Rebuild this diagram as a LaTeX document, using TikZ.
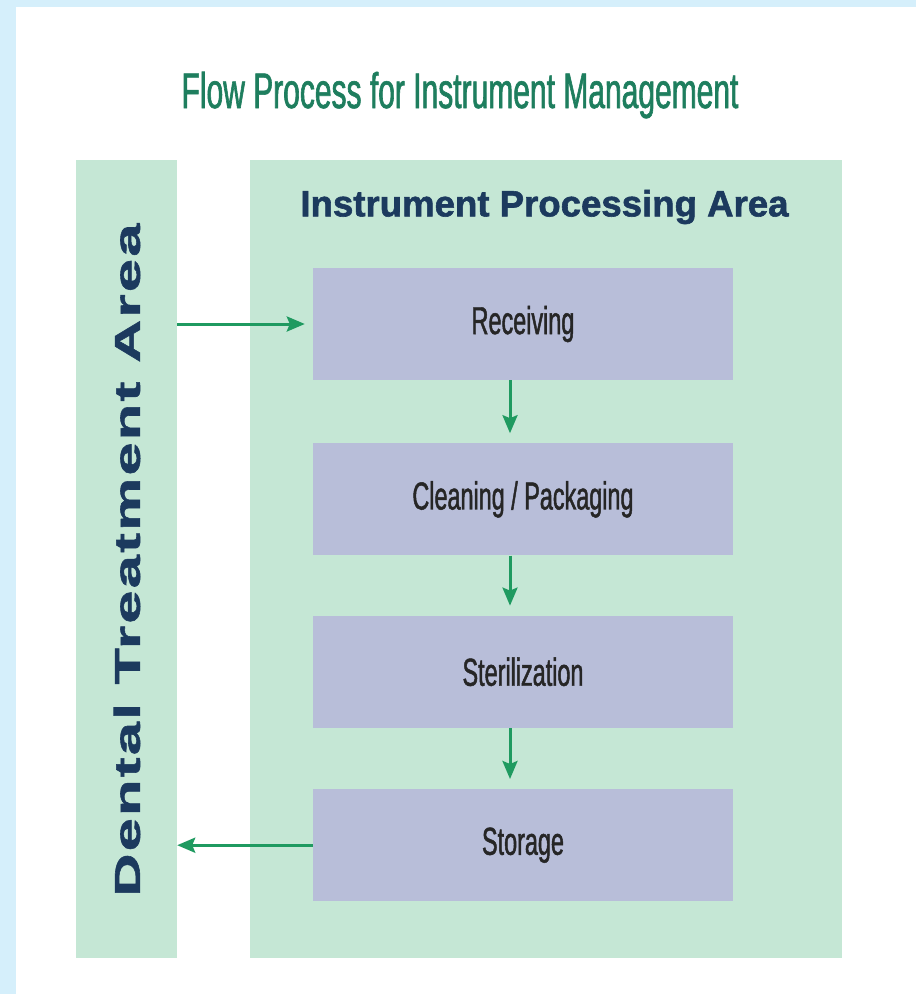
\documentclass[tikz,border=0pt]{standalone}
\usepackage{fontspec}
\setmainfont{Liberation Sans}
\newfontfamily\narrowfont[FakeStretch=0.6,FakeBold=1.2]{Liberation Sans}
\newfontfamily\heavyfont[FakeBold=1.6]{Liberation Sans}
\newfontfamily\widefont[FakeStretch=1.66,LetterSpace=6,FakeBold=1.6]{Liberation Sans}
\usetikzlibrary{positioning,arrows.meta}

\definecolor{bgblue}{HTML}{D5EFFB}
\definecolor{panelgreen}{HTML}{C5E7D5}
\definecolor{stagefill}{HTML}{B8BED9}
\definecolor{titlegreen}{HTML}{1E7E5E}
\definecolor{areanavy}{HTML}{1C3A5E}
\definecolor{flowgreen}{HTML}{1F9A60}

\begin{document}
\begin{tikzpicture}[x=1pt,y=-1pt,
	panel/.style={fill=panelgreen,inner sep=0pt,minimum height=798pt},
	stage/.style={fill=stagefill,inner sep=0pt,minimum width=420pt,minimum height=112pt,
		font=\narrowfont\fontsize{39}{39}\selectfont,text=black!85},
	flow/.style={draw=flowgreen,line width=3pt,-{Stealth[length=18pt,width=15pt,inset=3pt]}},
	node distance=62pt]
	%background
	\fill[bgblue] (0,0) rectangle (916,994);
	\fill[white] (16,7) rectangle (916,994);
	\useasboundingbox (0,0) rectangle (916,994);

	%title
	\node[anchor=base,text=titlegreen,font=\narrowfont\fontsize{50}{50}\selectfont] (title) at (460,108) {Flow Process for Instrument Management};

	%areas
	\node[panel,minimum width=101pt] (dta) at (126.5,559) {}; %dental treatment
	\node[panel,minimum width=592pt] (ipa) at (546,559) {}; %instrument processing

	%area labels
	\node[text=areanavy,font=\heavyfont\bfseries\fontsize{36.6}{36.6}\selectfont] (ipalabel) at (544.5,207) {Instrument Processing Area};
	\node[rotate=90,text=areanavy,font=\widefont\bfseries\fontsize{36}{36}\selectfont] (dtalabel) at (127,560) {Dental Treatment Area};

	%stages
	\node[stage] (rec) at (523,324) {Receiving};
	\node[stage,below=63pt of rec] (cle) {Cleaning / Packaging};
	\node[stage,below=60pt of cle] (ste) {Sterilization};
	\node[stage,below=61pt of ste] (sto) {Storage};

	%arrows
	\draw[flow,shorten >=8pt] (dta.east |- rec.west) -- (rec.west); %in
	\draw[flow,shorten >=10pt] ([xshift=-13pt]rec.south) -- ([xshift=-13pt]cle.north);
	\draw[flow,shorten >=10pt] ([xshift=-13pt]cle.south) -- ([xshift=-13pt]ste.north);
	\draw[flow,shorten >=10pt] ([xshift=-13pt]ste.south) -- ([xshift=-13pt]sto.north);
	\draw[flow] (sto.west) -- (dta.east |- sto.west); %out
\end{tikzpicture}
\end{document}
